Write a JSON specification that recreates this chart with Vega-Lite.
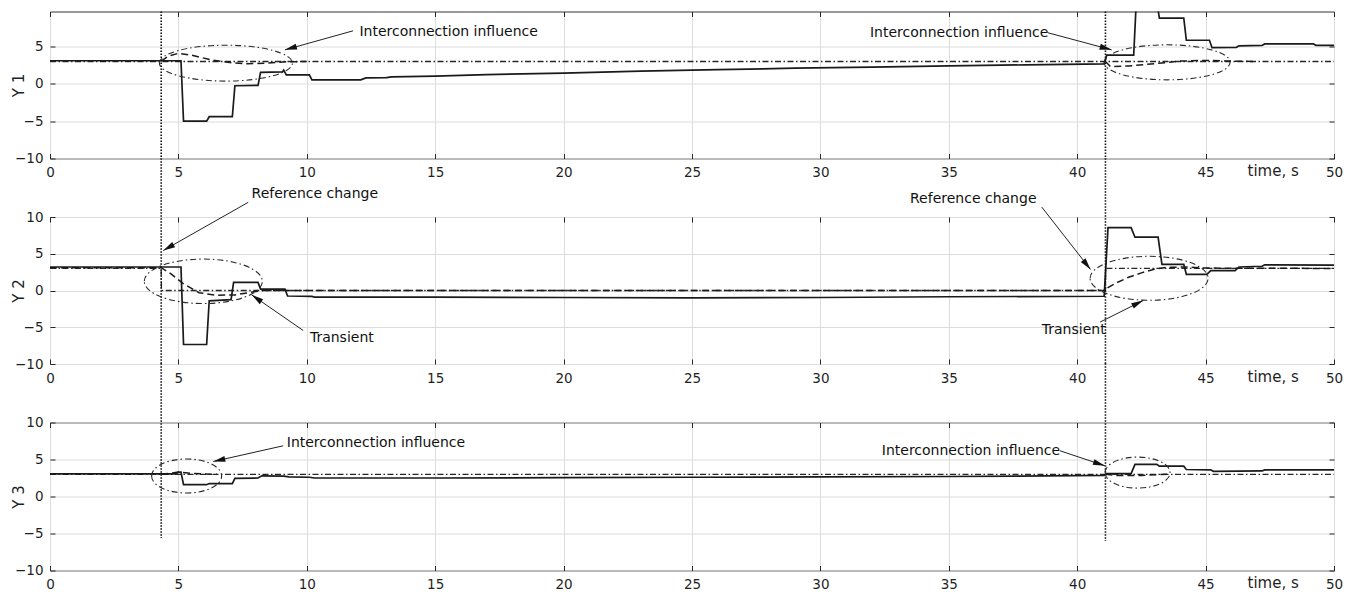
{
  "$schema": "https://vega.github.io/schema/vega-lite/v6.json",
  "padding": {"left": 10, "top": 9.5, "right": 4, "bottom": 2},
  "autosize": {"type": "pad"},
  "spacing": 58.5,
  "bounds": "flush",
  "config": {
    "font": "DejaVu Sans",
    "view": {"stroke": "#333333", "strokeWidth": 1},
    "axis": {
      "labelFont": "DejaVu Sans", "labelFontSize": 13.5, "labelColor": "#1f1f1f",
      "titleFont": "DejaVu Sans", "titleFontSize": 15, "titleFontWeight": "normal", "titleColor": "#1f1f1f",
      "tickColor": "#262626", "tickWidth": 1, "gridColor": "#dcdcdc", "gridWidth": 1, "domain": false,
      "labelFlush": false, "labelOverlap": false
    }
  },
  "datasets": {
    "series": [
      {"panel":"Y1","kind":"ref","seg":1,"t":0,"v":3},
      {"panel":"Y1","kind":"ref","seg":1,"t":50,"v":3},
      {"panel":"Y1","kind":"model","seg":1,"t":4.33,"v":3.05},
      {"panel":"Y1","kind":"model","seg":1,"t":4.6,"v":3.7},
      {"panel":"Y1","kind":"model","seg":1,"t":5.0,"v":4.1},
      {"panel":"Y1","kind":"model","seg":1,"t":5.5,"v":3.85},
      {"panel":"Y1","kind":"model","seg":1,"t":6.3,"v":3.2},
      {"panel":"Y1","kind":"model","seg":1,"t":7.0,"v":2.85},
      {"panel":"Y1","kind":"model","seg":1,"t":7.7,"v":2.7},
      {"panel":"Y1","kind":"model","seg":1,"t":8.5,"v":2.8},
      {"panel":"Y1","kind":"model","seg":1,"t":9.2,"v":2.95},
      {"panel":"Y1","kind":"model","seg":1,"t":10,"v":3.0},
      {"panel":"Y1","kind":"model","seg":2,"t":41.1,"v":3.0},
      {"panel":"Y1","kind":"model","seg":2,"t":41.3,"v":2.3},
      {"panel":"Y1","kind":"model","seg":2,"t":42,"v":2.4},
      {"panel":"Y1","kind":"model","seg":2,"t":43,"v":2.7},
      {"panel":"Y1","kind":"model","seg":2,"t":44,"v":3.05},
      {"panel":"Y1","kind":"model","seg":2,"t":45,"v":3.15},
      {"panel":"Y1","kind":"model","seg":2,"t":46,"v":3.05},
      {"panel":"Y1","kind":"model","seg":2,"t":47,"v":3.0},
      {"panel":"Y1","kind":"out","seg":1,"t":0,"v":3.1},
      {"panel":"Y1","kind":"out","seg":1,"t":5.1,"v":3.1},
      {"panel":"Y1","kind":"out","seg":1,"t":5.2,"v":-5.0},
      {"panel":"Y1","kind":"out","seg":1,"t":6.1,"v":-5.0},
      {"panel":"Y1","kind":"out","seg":1,"t":6.2,"v":-4.4},
      {"panel":"Y1","kind":"out","seg":1,"t":7.1,"v":-4.4},
      {"panel":"Y1","kind":"out","seg":1,"t":7.2,"v":-0.25},
      {"panel":"Y1","kind":"out","seg":1,"t":8.1,"v":-0.2},
      {"panel":"Y1","kind":"out","seg":1,"t":8.2,"v":1.55},
      {"panel":"Y1","kind":"out","seg":1,"t":9.05,"v":1.6},
      {"panel":"Y1","kind":"out","seg":1,"t":9.1,"v":1.85},
      {"panel":"Y1","kind":"out","seg":1,"t":9.2,"v":1.2},
      {"panel":"Y1","kind":"out","seg":1,"t":10.1,"v":1.2},
      {"panel":"Y1","kind":"out","seg":1,"t":10.2,"v":0.55},
      {"panel":"Y1","kind":"out","seg":1,"t":12.1,"v":0.55},
      {"panel":"Y1","kind":"out","seg":1,"t":12.3,"v":0.8},
      {"panel":"Y1","kind":"out","seg":1,"t":13.1,"v":0.85},
      {"panel":"Y1","kind":"out","seg":1,"t":13.3,"v":0.95},
      {"panel":"Y1","kind":"out","seg":1,"t":15,"v":1.05},
      {"panel":"Y1","kind":"out","seg":1,"t":17,"v":1.25},
      {"panel":"Y1","kind":"out","seg":1,"t":20,"v":1.45},
      {"panel":"Y1","kind":"out","seg":1,"t":23,"v":1.7},
      {"panel":"Y1","kind":"out","seg":1,"t":26,"v":1.9},
      {"panel":"Y1","kind":"out","seg":1,"t":29,"v":2.1},
      {"panel":"Y1","kind":"out","seg":1,"t":32,"v":2.25},
      {"panel":"Y1","kind":"out","seg":1,"t":35,"v":2.42},
      {"panel":"Y1","kind":"out","seg":1,"t":38,"v":2.55},
      {"panel":"Y1","kind":"out","seg":1,"t":41.05,"v":2.68},
      {"panel":"Y1","kind":"out","seg":1,"t":41.15,"v":3.85},
      {"panel":"Y1","kind":"out","seg":1,"t":42.2,"v":3.85},
      {"panel":"Y1","kind":"out","seg":1,"t":42.3,"v":11},
      {"panel":"Y1","kind":"out","seg":1,"t":43.1,"v":11},
      {"panel":"Y1","kind":"out","seg":1,"t":43.2,"v":8.8},
      {"panel":"Y1","kind":"out","seg":1,"t":44.15,"v":8.8},
      {"panel":"Y1","kind":"out","seg":1,"t":44.25,"v":5.85},
      {"panel":"Y1","kind":"out","seg":1,"t":45.15,"v":5.85},
      {"panel":"Y1","kind":"out","seg":1,"t":45.25,"v":4.85},
      {"panel":"Y1","kind":"out","seg":1,"t":46.2,"v":4.9},
      {"panel":"Y1","kind":"out","seg":1,"t":46.3,"v":5.1},
      {"panel":"Y1","kind":"out","seg":1,"t":47.2,"v":5.15},
      {"panel":"Y1","kind":"out","seg":1,"t":47.3,"v":5.35},
      {"panel":"Y1","kind":"out","seg":1,"t":49.2,"v":5.35},
      {"panel":"Y1","kind":"out","seg":1,"t":49.3,"v":5.15},
      {"panel":"Y1","kind":"out","seg":1,"t":50,"v":5.15},

      {"panel":"Y2","kind":"ref","seg":1,"t":0,"v":3},
      {"panel":"Y2","kind":"ref","seg":1,"t":4.33,"v":3},
      {"panel":"Y2","kind":"ref","seg":1,"t":4.34,"v":0},
      {"panel":"Y2","kind":"ref","seg":1,"t":41.1,"v":0},
      {"panel":"Y2","kind":"ref","seg":1,"t":41.11,"v":3},
      {"panel":"Y2","kind":"ref","seg":1,"t":50,"v":3},
      {"panel":"Y2","kind":"model","seg":1,"t":0,"v":3.1},
      {"panel":"Y2","kind":"model","seg":1,"t":4.33,"v":3.1},
      {"panel":"Y2","kind":"model","seg":1,"t":4.7,"v":2.3},
      {"panel":"Y2","kind":"model","seg":1,"t":5.2,"v":0.9},
      {"panel":"Y2","kind":"model","seg":1,"t":5.8,"v":-0.3},
      {"panel":"Y2","kind":"model","seg":1,"t":6.5,"v":-0.65},
      {"panel":"Y2","kind":"model","seg":1,"t":7.2,"v":-0.6},
      {"panel":"Y2","kind":"model","seg":1,"t":7.8,"v":-0.25},
      {"panel":"Y2","kind":"model","seg":1,"t":8.3,"v":0},
      {"panel":"Y2","kind":"model","seg":1,"t":41.1,"v":0},
      {"panel":"Y2","kind":"model","seg":1,"t":41.2,"v":0.4},
      {"panel":"Y2","kind":"model","seg":1,"t":41.5,"v":1.0},
      {"panel":"Y2","kind":"model","seg":1,"t":42,"v":1.8},
      {"panel":"Y2","kind":"model","seg":1,"t":42.5,"v":2.4},
      {"panel":"Y2","kind":"model","seg":1,"t":43,"v":2.9},
      {"panel":"Y2","kind":"model","seg":1,"t":43.5,"v":3.15},
      {"panel":"Y2","kind":"model","seg":1,"t":44.2,"v":3.2},
      {"panel":"Y2","kind":"model","seg":1,"t":45,"v":3.05},
      {"panel":"Y2","kind":"model","seg":1,"t":50,"v":3.0},
      {"panel":"Y2","kind":"out","seg":1,"t":0,"v":3.2},
      {"panel":"Y2","kind":"out","seg":1,"t":5.1,"v":3.2},
      {"panel":"Y2","kind":"out","seg":1,"t":5.2,"v":-7.35},
      {"panel":"Y2","kind":"out","seg":1,"t":6.1,"v":-7.35},
      {"panel":"Y2","kind":"out","seg":1,"t":6.2,"v":-1.4},
      {"panel":"Y2","kind":"out","seg":1,"t":7.05,"v":-1.25},
      {"panel":"Y2","kind":"out","seg":1,"t":7.15,"v":1.1},
      {"panel":"Y2","kind":"out","seg":1,"t":8.1,"v":1.1},
      {"panel":"Y2","kind":"out","seg":1,"t":8.2,"v":0.2},
      {"panel":"Y2","kind":"out","seg":1,"t":9.15,"v":0.2},
      {"panel":"Y2","kind":"out","seg":1,"t":9.25,"v":-0.75},
      {"panel":"Y2","kind":"out","seg":1,"t":10.2,"v":-0.8},
      {"panel":"Y2","kind":"out","seg":1,"t":10.3,"v":-0.9},
      {"panel":"Y2","kind":"out","seg":1,"t":15,"v":-0.9},
      {"panel":"Y2","kind":"out","seg":1,"t":20,"v":-0.95},
      {"panel":"Y2","kind":"out","seg":1,"t":25,"v":-1.0},
      {"panel":"Y2","kind":"out","seg":1,"t":30,"v":-0.95},
      {"panel":"Y2","kind":"out","seg":1,"t":35,"v":-0.85},
      {"panel":"Y2","kind":"out","seg":1,"t":41.05,"v":-0.78},
      {"panel":"Y2","kind":"out","seg":1,"t":41.2,"v":8.55},
      {"panel":"Y2","kind":"out","seg":1,"t":42.1,"v":8.55},
      {"panel":"Y2","kind":"out","seg":1,"t":42.25,"v":7.25},
      {"panel":"Y2","kind":"out","seg":1,"t":43.15,"v":7.25},
      {"panel":"Y2","kind":"out","seg":1,"t":43.3,"v":3.55},
      {"panel":"Y2","kind":"out","seg":1,"t":44.15,"v":3.55},
      {"panel":"Y2","kind":"out","seg":1,"t":44.25,"v":2.2},
      {"panel":"Y2","kind":"out","seg":1,"t":45.05,"v":2.2},
      {"panel":"Y2","kind":"out","seg":1,"t":45.2,"v":2.7},
      {"panel":"Y2","kind":"out","seg":1,"t":46.15,"v":2.7},
      {"panel":"Y2","kind":"out","seg":1,"t":46.3,"v":3.2},
      {"panel":"Y2","kind":"out","seg":1,"t":47.2,"v":3.3},
      {"panel":"Y2","kind":"out","seg":1,"t":47.3,"v":3.5},
      {"panel":"Y2","kind":"out","seg":1,"t":50,"v":3.45},

      {"panel":"Y3","kind":"ref","seg":1,"t":0,"v":3},
      {"panel":"Y3","kind":"ref","seg":1,"t":50,"v":3},
      {"panel":"Y3","kind":"model","seg":1,"t":4.33,"v":3.0},
      {"panel":"Y3","kind":"model","seg":1,"t":5.0,"v":3.3},
      {"panel":"Y3","kind":"model","seg":1,"t":5.6,"v":3.1},
      {"panel":"Y3","kind":"model","seg":1,"t":6.5,"v":3.0},
      {"panel":"Y3","kind":"model","seg":2,"t":41.1,"v":3.0},
      {"panel":"Y3","kind":"model","seg":2,"t":41.5,"v":2.85},
      {"panel":"Y3","kind":"model","seg":2,"t":42.5,"v":2.85},
      {"panel":"Y3","kind":"model","seg":2,"t":43.5,"v":3.0},
      {"panel":"Y3","kind":"out","seg":1,"t":0,"v":3.05},
      {"panel":"Y3","kind":"out","seg":1,"t":4.9,"v":3.05},
      {"panel":"Y3","kind":"out","seg":1,"t":5.0,"v":3.3},
      {"panel":"Y3","kind":"out","seg":1,"t":5.1,"v":3.3},
      {"panel":"Y3","kind":"out","seg":1,"t":5.2,"v":1.6},
      {"panel":"Y3","kind":"out","seg":1,"t":6.1,"v":1.6},
      {"panel":"Y3","kind":"out","seg":1,"t":6.2,"v":1.75},
      {"panel":"Y3","kind":"out","seg":1,"t":7.1,"v":1.75},
      {"panel":"Y3","kind":"out","seg":1,"t":7.2,"v":2.45},
      {"panel":"Y3","kind":"out","seg":1,"t":8.1,"v":2.5},
      {"panel":"Y3","kind":"out","seg":1,"t":8.25,"v":2.8},
      {"panel":"Y3","kind":"out","seg":1,"t":9.1,"v":2.75},
      {"panel":"Y3","kind":"out","seg":1,"t":9.3,"v":2.65},
      {"panel":"Y3","kind":"out","seg":1,"t":10.1,"v":2.6},
      {"panel":"Y3","kind":"out","seg":1,"t":10.3,"v":2.5},
      {"panel":"Y3","kind":"out","seg":1,"t":15,"v":2.5},
      {"panel":"Y3","kind":"out","seg":1,"t":20,"v":2.55},
      {"panel":"Y3","kind":"out","seg":1,"t":25,"v":2.6},
      {"panel":"Y3","kind":"out","seg":1,"t":30,"v":2.65},
      {"panel":"Y3","kind":"out","seg":1,"t":35,"v":2.7},
      {"panel":"Y3","kind":"out","seg":1,"t":41.05,"v":2.85},
      {"panel":"Y3","kind":"out","seg":1,"t":41.15,"v":3.1},
      {"panel":"Y3","kind":"out","seg":1,"t":42.1,"v":3.1},
      {"panel":"Y3","kind":"out","seg":1,"t":42.25,"v":4.35},
      {"panel":"Y3","kind":"out","seg":1,"t":43.1,"v":4.35},
      {"panel":"Y3","kind":"out","seg":1,"t":43.2,"v":4.1},
      {"panel":"Y3","kind":"out","seg":1,"t":44.15,"v":4.1},
      {"panel":"Y3","kind":"out","seg":1,"t":44.25,"v":3.65},
      {"panel":"Y3","kind":"out","seg":1,"t":45.2,"v":3.6},
      {"panel":"Y3","kind":"out","seg":1,"t":45.3,"v":3.4},
      {"panel":"Y3","kind":"out","seg":1,"t":47.2,"v":3.45},
      {"panel":"Y3","kind":"out","seg":1,"t":47.3,"v":3.6},
      {"panel":"Y3","kind":"out","seg":1,"t":50,"v":3.6}
    ],
    "events": [
      {"panel":"Y1","t":4.33,"top":9.7,"bottom":-10},
      {"panel":"Y1","t":41.1,"top":9.7,"bottom":-10},
      {"panel":"Y2","t":4.33,"top":18,"bottom":-10},
      {"panel":"Y2","t":41.1,"top":18,"bottom":-10},
      {"panel":"Y3","t":4.33,"top":18,"bottom":-5.6},
      {"panel":"Y3","t":41.1,"top":18,"bottom":-6.0}
    ],
    "ellipses": [
      {"id":"A","t":6.85,"v":2.78},
      {"id":"B","t":43.5,"v":2.89},
      {"id":"C","t":5.97,"v":1.25},
      {"id":"D","t":42.8,"v":1.66},
      {"id":"E","t":5.32,"v":2.77},
      {"id":"F","t":42.35,"v":3.23}
    ],
    "arrows": [
      {"id":"A","panel":"Y1","t":11.8,"v":7.11,"t2":9.15,"v2":4.56},
      {"id":"B","panel":"Y1","t":38.86,"v":6.85,"t2":41.34,"v2":4.56},
      {"id":"C","panel":"Y2","t":7.72,"v":12.0,"t2":4.41,"v2":5.44},
      {"id":"D","panel":"Y2","t":9.86,"v":-5.44,"t2":7.85,"v2":-0.59},
      {"id":"E","panel":"Y2","t":38.62,"v":11.35,"t2":40.52,"v2":2.86},
      {"id":"F","panel":"Y2","t":40.89,"v":-4.3,"t2":42.57,"v2":-1.36},
      {"id":"G","panel":"Y3","t":9.08,"v":6.85,"t2":6.36,"v2":4.73},
      {"id":"H","panel":"Y3","t":39.33,"v":6.18,"t2":41.08,"v2":4.15}
    ],
    "notes": [
      {"panel":"Y1","label":"Interconnection influence","t":12.05,"v":7.0},
      {"panel":"Y1","label":"Interconnection influence","t":31.93,"v":6.85},
      {"panel":"Y2","label":"Reference change","t":7.85,"v":13.16},
      {"panel":"Y2","label":"Transient","t":10.12,"v":-6.48},
      {"panel":"Y2","label":"Reference change","t":33.49,"v":12.48},
      {"panel":"Y2","label":"Transient","t":38.62,"v":-5.44},
      {"panel":"Y3","label":"Interconnection influence","t":9.22,"v":7.22},
      {"panel":"Y3","label":"Interconnection influence","t":32.39,"v":6.18}
    ]
  },
  "vconcat": [
    {
      "width": 1284, "height": 147,
      "data": {"name": "series"},
      "encoding": {
        "x": {"field": "t", "type": "quantitative", "scale": {"domain": [0, 50], "nice": false, "zero": false}, "axis": null},
        "y": {"field": "v", "type": "quantitative", "scale": {"domain": [-10, 9.7], "nice": false, "zero": false}, "axis": null}
      },
      "layer": [
        {
          "transform": [{"filter": "datum.panel === 'Y1' && datum.kind === 'ref'"}],
          "mark": {"type": "line", "color": "#262626", "strokeWidth": 1.3, "strokeDash": [6, 2.5, 1.5, 2.5]},
          "encoding": {
            "x": {"field": "t", "type": "quantitative", "scale": {"domain": [0, 50], "nice": false, "zero": false},
              "axis": {"orient": "bottom", "values": [0,5,10,15,20,25,30,35,40,45,50], "grid": true, "ticks": true, "tickSize": -5, "labelPadding": 12,
                "title": "time, s", "titleX": 1197, "titleY": 12, "titleAlign": "left", "titleBaseline": "middle", "titleAngle": 0, "titleFontSize": 15}},
            "y": {"field": "v", "type": "quantitative", "scale": {"domain": [-10, 9.7], "nice": false, "zero": false},
              "axis": {"orient": "left", "values": [-10,-5,0,5], "grid": true, "ticks": true, "tickSize": -5, "labelPadding": 12, "title": "Y 1", "titlePadding": -11.5}}
          }
        },
        {
          "transform": [{"filter": "datum.panel === 'Y1' && datum.kind === 'model'"}],
          "mark": {"type": "line", "color": "#1a1a1a", "strokeWidth": 1.5, "strokeDash": [7, 4]},
          "encoding": {
            "detail": {"field": "seg"},
            "x": {"field": "t", "type": "quantitative", "axis": {"orient": "top", "values": [0,5,10,15,20,25,30,35,40,45,50], "grid": false, "labels": false, "ticks": true, "tickSize": -5, "title": null}},
            "y": {"field": "v", "type": "quantitative", "axis": {"orient": "right", "values": [-10,-5,0,5], "grid": false, "labels": false, "ticks": true, "tickSize": -5, "title": null}}
          }
        },
        {
          "transform": [{"filter": "datum.panel === 'Y1' && datum.kind === 'out'"}],
          "mark": {"type": "line", "color": "#1a1a1a", "strokeWidth": 1.7, "clip": true}
        },
        {
          "data": {"name": "events"},
          "transform": [{"filter": "datum.panel === 'Y1'"}],
          "mark": {"type": "rule", "color": "#111111", "strokeWidth": 1.6, "strokeDash": [1.5, 1.5]},
          "encoding": {"y": {"field": "top", "type": "quantitative", "axis": null}, "y2": {"field": "bottom"}}
        },
        {
          "data": {"name": "ellipses"},
          "transform": [{"filter": "datum.id === 'A'"}],
          "mark": {"type": "point", "filled": false, "opacity": 1, "color": "#2a2a2a", "strokeWidth": 1.1, "strokeDash": [6, 3, 1.5, 3], "size": 17689,
            "shape": "M-1,0C-1,-0.149,-0.552,-0.27,0,-0.27C0.552,-0.27,1,-0.149,1,0C1,0.149,0.552,0.27,0,0.27C-0.552,0.27,-1,0.149,-1,0Z"}
        },
        {
          "data": {"name": "ellipses"},
          "transform": [{"filter": "datum.id === 'B'"}],
          "mark": {"type": "point", "filled": false, "opacity": 1, "color": "#2a2a2a", "strokeWidth": 1.1, "strokeDash": [6, 3, 1.5, 3], "size": 15876,
            "shape": "M-1,0C-1,-0.154,-0.552,-0.278,0,-0.278C0.552,-0.278,1,-0.154,1,0C1,0.154,0.552,0.278,0,0.278C-0.552,0.278,-1,0.154,-1,0Z"}
        },
        {
          "data": {"name": "arrows"},
          "transform": [{"filter": "datum.panel === 'Y1'"}],
          "mark": {"type": "rule", "color": "#222222", "strokeWidth": 1},
          "encoding": {"x2": {"field": "t2"}, "y2": {"field": "v2"}}
        },
        {
          "data": {"name": "arrows"},
          "transform": [{"filter": "datum.id === 'A'"}],
          "mark": {"type": "point", "filled": true, "opacity": 1, "color": "#111111", "size": 144, "angle": 164.4, "shape": "M0,0L-2,-0.5L-2,0.5Z"},
          "encoding": {"x": {"field": "t2", "type": "quantitative", "axis": null}, "y": {"field": "v2", "type": "quantitative", "axis": null}}
        },
        {
          "data": {"name": "arrows"},
          "transform": [{"filter": "datum.id === 'B'"}],
          "mark": {"type": "point", "filled": true, "opacity": 1, "color": "#111111", "size": 144, "angle": 14.9, "shape": "M0,0L-2,-0.5L-2,0.5Z"},
          "encoding": {"x": {"field": "t2", "type": "quantitative", "axis": null}, "y": {"field": "v2", "type": "quantitative", "axis": null}}
        },
        {
          "data": {"name": "notes"},
          "transform": [{"filter": "datum.panel === 'Y1'"}],
          "mark": {"type": "text", "align": "left", "baseline": "middle", "font": "DejaVu Sans", "fontSize": 14, "color": "#111111"},
          "encoding": {"text": {"field": "label"}}
        }
      ],
      "resolve": {"axis": {"x": "independent", "y": "independent"}}
    },
    {
      "width": 1284, "height": 147,
      "data": {"name": "series"},
      "encoding": {
        "x": {"field": "t", "type": "quantitative", "scale": {"domain": [0, 50], "nice": false, "zero": false}, "axis": null},
        "y": {"field": "v", "type": "quantitative", "scale": {"domain": [-10, 10], "nice": false, "zero": false}, "axis": null}
      },
      "layer": [
        {
          "transform": [{"filter": "datum.panel === 'Y2' && datum.kind === 'ref'"}],
          "mark": {"type": "line", "color": "#262626", "strokeWidth": 1.3, "strokeDash": [6, 2.5, 1.5, 2.5]},
          "encoding": {
            "x": {"field": "t", "type": "quantitative", "scale": {"domain": [0, 50], "nice": false, "zero": false},
              "axis": {"orient": "bottom", "values": [0,5,10,15,20,25,30,35,40,45,50], "grid": true, "ticks": true, "tickSize": -5, "labelPadding": 12,
                "title": "time, s", "titleX": 1197, "titleY": 12, "titleAlign": "left", "titleBaseline": "middle", "titleAngle": 0, "titleFontSize": 15}},
            "y": {"field": "v", "type": "quantitative", "scale": {"domain": [-10, 10], "nice": false, "zero": false},
              "axis": {"orient": "left", "values": [-10,-5,0,5,10], "grid": true, "ticks": true, "tickSize": -5, "labelPadding": 12, "title": "Y 2", "titlePadding": -11.5}}
          }
        },
        {
          "transform": [{"filter": "datum.panel === 'Y2' && datum.kind === 'model'"}],
          "mark": {"type": "line", "color": "#1a1a1a", "strokeWidth": 1.5, "strokeDash": [7, 4]},
          "encoding": {
            "detail": {"field": "seg"},
            "x": {"field": "t", "type": "quantitative", "axis": {"orient": "top", "values": [0,5,10,15,20,25,30,35,40,45,50], "grid": false, "labels": false, "ticks": true, "tickSize": -5, "title": null}},
            "y": {"field": "v", "type": "quantitative", "axis": {"orient": "right", "values": [-10,-5,0,5,10], "grid": false, "labels": false, "ticks": true, "tickSize": -5, "title": null}}
          }
        },
        {
          "transform": [{"filter": "datum.panel === 'Y2' && datum.kind === 'out'"}],
          "mark": {"type": "line", "color": "#1a1a1a", "strokeWidth": 1.7, "clip": true}
        },
        {
          "data": {"name": "events"},
          "transform": [{"filter": "datum.panel === 'Y2'"}],
          "mark": {"type": "rule", "color": "#111111", "strokeWidth": 1.6, "strokeDash": [1.5, 1.5]},
          "encoding": {"y": {"field": "top", "type": "quantitative", "axis": null}, "y2": {"field": "bottom"}}
        },
        {
          "data": {"name": "ellipses"},
          "transform": [{"filter": "datum.id === 'C'"}],
          "mark": {"type": "point", "filled": false, "opacity": 1, "color": "#2a2a2a", "strokeWidth": 1.1, "strokeDash": [6, 3, 1.5, 3], "size": 13924,
            "shape": "M-1,0C-1,-0.208,-0.552,-0.377,0,-0.377C0.552,-0.377,1,-0.208,1,0C1,0.208,0.552,0.377,0,0.377C-0.552,0.377,-1,0.208,-1,0Z"}
        },
        {
          "data": {"name": "ellipses"},
          "transform": [{"filter": "datum.id === 'D'"}],
          "mark": {"type": "point", "filled": false, "opacity": 1, "color": "#2a2a2a", "strokeWidth": 1.1, "strokeDash": [6, 3, 1.5, 3], "size": 13924,
            "shape": "M-1,0C-1,-0.206,-0.552,-0.373,0,-0.373C0.552,-0.373,1,-0.206,1,0C1,0.206,0.552,0.373,0,0.373C-0.552,0.373,-1,0.206,-1,0Z"}
        },
        {
          "data": {"name": "arrows"},
          "transform": [{"filter": "datum.panel === 'Y2'"}],
          "mark": {"type": "rule", "color": "#222222", "strokeWidth": 1},
          "encoding": {"x2": {"field": "t2"}, "y2": {"field": "v2"}}
        },
        {
          "data": {"name": "arrows"},
          "transform": [{"filter": "datum.id === 'C'"}],
          "mark": {"type": "point", "filled": true, "opacity": 1, "color": "#111111", "size": 144, "angle": 150.3, "shape": "M0,0L-2,-0.5L-2,0.5Z"},
          "encoding": {"x": {"field": "t2", "type": "quantitative", "axis": null}, "y": {"field": "v2", "type": "quantitative", "axis": null}}
        },
        {
          "data": {"name": "arrows"},
          "transform": [{"filter": "datum.id === 'D'"}],
          "mark": {"type": "point", "filled": true, "opacity": 1, "color": "#111111", "size": 144, "angle": 214.7, "shape": "M0,0L-2,-0.5L-2,0.5Z"},
          "encoding": {"x": {"field": "t2", "type": "quantitative", "axis": null}, "y": {"field": "v2", "type": "quantitative", "axis": null}}
        },
        {
          "data": {"name": "arrows"},
          "transform": [{"filter": "datum.id === 'E'"}],
          "mark": {"type": "point", "filled": true, "opacity": 1, "color": "#111111", "size": 144, "angle": 51.9, "shape": "M0,0L-2,-0.5L-2,0.5Z"},
          "encoding": {"x": {"field": "t2", "type": "quantitative", "axis": null}, "y": {"field": "v2", "type": "quantitative", "axis": null}}
        },
        {
          "data": {"name": "arrows"},
          "transform": [{"filter": "datum.id === 'F'"}],
          "mark": {"type": "point", "filled": true, "opacity": 1, "color": "#111111", "size": 144, "angle": 333.5, "shape": "M0,0L-2,-0.5L-2,0.5Z"},
          "encoding": {"x": {"field": "t2", "type": "quantitative", "axis": null}, "y": {"field": "v2", "type": "quantitative", "axis": null}}
        },
        {
          "data": {"name": "notes"},
          "transform": [{"filter": "datum.panel === 'Y2'"}],
          "mark": {"type": "text", "align": "left", "baseline": "middle", "font": "DejaVu Sans", "fontSize": 14, "color": "#111111"},
          "encoding": {"text": {"field": "label"}}
        }
      ],
      "resolve": {"axis": {"x": "independent", "y": "independent"}}
    },
    {
      "width": 1284, "height": 148,
      "data": {"name": "series"},
      "encoding": {
        "x": {"field": "t", "type": "quantitative", "scale": {"domain": [0, 50], "nice": false, "zero": false}, "axis": null},
        "y": {"field": "v", "type": "quantitative", "scale": {"domain": [-10, 10], "nice": false, "zero": false}, "axis": null}
      },
      "layer": [
        {
          "transform": [{"filter": "datum.panel === 'Y3' && datum.kind === 'ref'"}],
          "mark": {"type": "line", "color": "#262626", "strokeWidth": 1.3, "strokeDash": [6, 2.5, 1.5, 2.5]},
          "encoding": {
            "x": {"field": "t", "type": "quantitative", "scale": {"domain": [0, 50], "nice": false, "zero": false},
              "axis": {"orient": "bottom", "values": [0,5,10,15,20,25,30,35,40,45,50], "grid": true, "ticks": true, "tickSize": -5, "labelPadding": 12,
                "title": "time, s", "titleX": 1197, "titleY": 12, "titleAlign": "left", "titleBaseline": "middle", "titleAngle": 0, "titleFontSize": 15}},
            "y": {"field": "v", "type": "quantitative", "scale": {"domain": [-10, 10], "nice": false, "zero": false},
              "axis": {"orient": "left", "values": [-10,-5,0,5,10], "grid": true, "ticks": true, "tickSize": -5, "labelPadding": 12, "title": "Y 3", "titlePadding": -11.5}}
          }
        },
        {
          "transform": [{"filter": "datum.panel === 'Y3' && datum.kind === 'model'"}],
          "mark": {"type": "line", "color": "#1a1a1a", "strokeWidth": 1.5, "strokeDash": [7, 4]},
          "encoding": {
            "detail": {"field": "seg"},
            "x": {"field": "t", "type": "quantitative", "axis": {"orient": "top", "values": [0,5,10,15,20,25,30,35,40,45,50], "grid": false, "labels": false, "ticks": true, "tickSize": -5, "title": null}},
            "y": {"field": "v", "type": "quantitative", "axis": {"orient": "right", "values": [-10,-5,0,5,10], "grid": false, "labels": false, "ticks": true, "tickSize": -5, "title": null}}
          }
        },
        {
          "transform": [{"filter": "datum.panel === 'Y3' && datum.kind === 'out'"}],
          "mark": {"type": "line", "color": "#1a1a1a", "strokeWidth": 1.7, "clip": true}
        },
        {
          "data": {"name": "events"},
          "transform": [{"filter": "datum.panel === 'Y3'"}],
          "mark": {"type": "rule", "color": "#111111", "strokeWidth": 1.6, "strokeDash": [1.5, 1.5]},
          "encoding": {"y": {"field": "top", "type": "quantitative", "axis": null}, "y2": {"field": "bottom"}}
        },
        {
          "data": {"name": "ellipses"},
          "transform": [{"filter": "datum.id === 'E'"}],
          "mark": {"type": "point", "filled": false, "opacity": 1, "color": "#2a2a2a", "strokeWidth": 1.1, "strokeDash": [6, 3, 1.5, 3], "size": 4900,
            "shape": "M-1,0C-1,-0.268,-0.552,-0.486,0,-0.486C0.552,-0.486,1,-0.268,1,0C1,0.268,0.552,0.486,0,0.486C-0.552,0.486,-1,0.268,-1,0Z"}
        },
        {
          "data": {"name": "ellipses"},
          "transform": [{"filter": "datum.id === 'F'"}],
          "mark": {"type": "point", "filled": false, "opacity": 1, "color": "#2a2a2a", "strokeWidth": 1.1, "strokeDash": [6, 3, 1.5, 3], "size": 4225,
            "shape": "M-1,0C-1,-0.263,-0.552,-0.477,0,-0.477C0.552,-0.477,1,-0.263,1,0C1,0.263,0.552,0.477,0,0.477C-0.552,0.477,-1,0.263,-1,0Z"}
        },
        {
          "data": {"name": "arrows"},
          "transform": [{"filter": "datum.panel === 'Y3'"}],
          "mark": {"type": "rule", "color": "#222222", "strokeWidth": 1},
          "encoding": {"x2": {"field": "t2"}, "y2": {"field": "v2"}}
        },
        {
          "data": {"name": "arrows"},
          "transform": [{"filter": "datum.id === 'G'"}],
          "mark": {"type": "point", "filled": true, "opacity": 1, "color": "#111111", "size": 144, "angle": 167.4, "shape": "M0,0L-2,-0.5L-2,0.5Z"},
          "encoding": {"x": {"field": "t2", "type": "quantitative", "axis": null}, "y": {"field": "v2", "type": "quantitative", "axis": null}}
        },
        {
          "data": {"name": "arrows"},
          "transform": [{"filter": "datum.id === 'H'"}],
          "mark": {"type": "point", "filled": true, "opacity": 1, "color": "#111111", "size": 144, "angle": 18.4, "shape": "M0,0L-2,-0.5L-2,0.5Z"},
          "encoding": {"x": {"field": "t2", "type": "quantitative", "axis": null}, "y": {"field": "v2", "type": "quantitative", "axis": null}}
        },
        {
          "data": {"name": "notes"},
          "transform": [{"filter": "datum.panel === 'Y3'"}],
          "mark": {"type": "text", "align": "left", "baseline": "middle", "font": "DejaVu Sans", "fontSize": 14, "color": "#111111"},
          "encoding": {"text": {"field": "label"}}
        }
      ],
      "resolve": {"axis": {"x": "independent", "y": "independent"}}
    }
  ]
}
